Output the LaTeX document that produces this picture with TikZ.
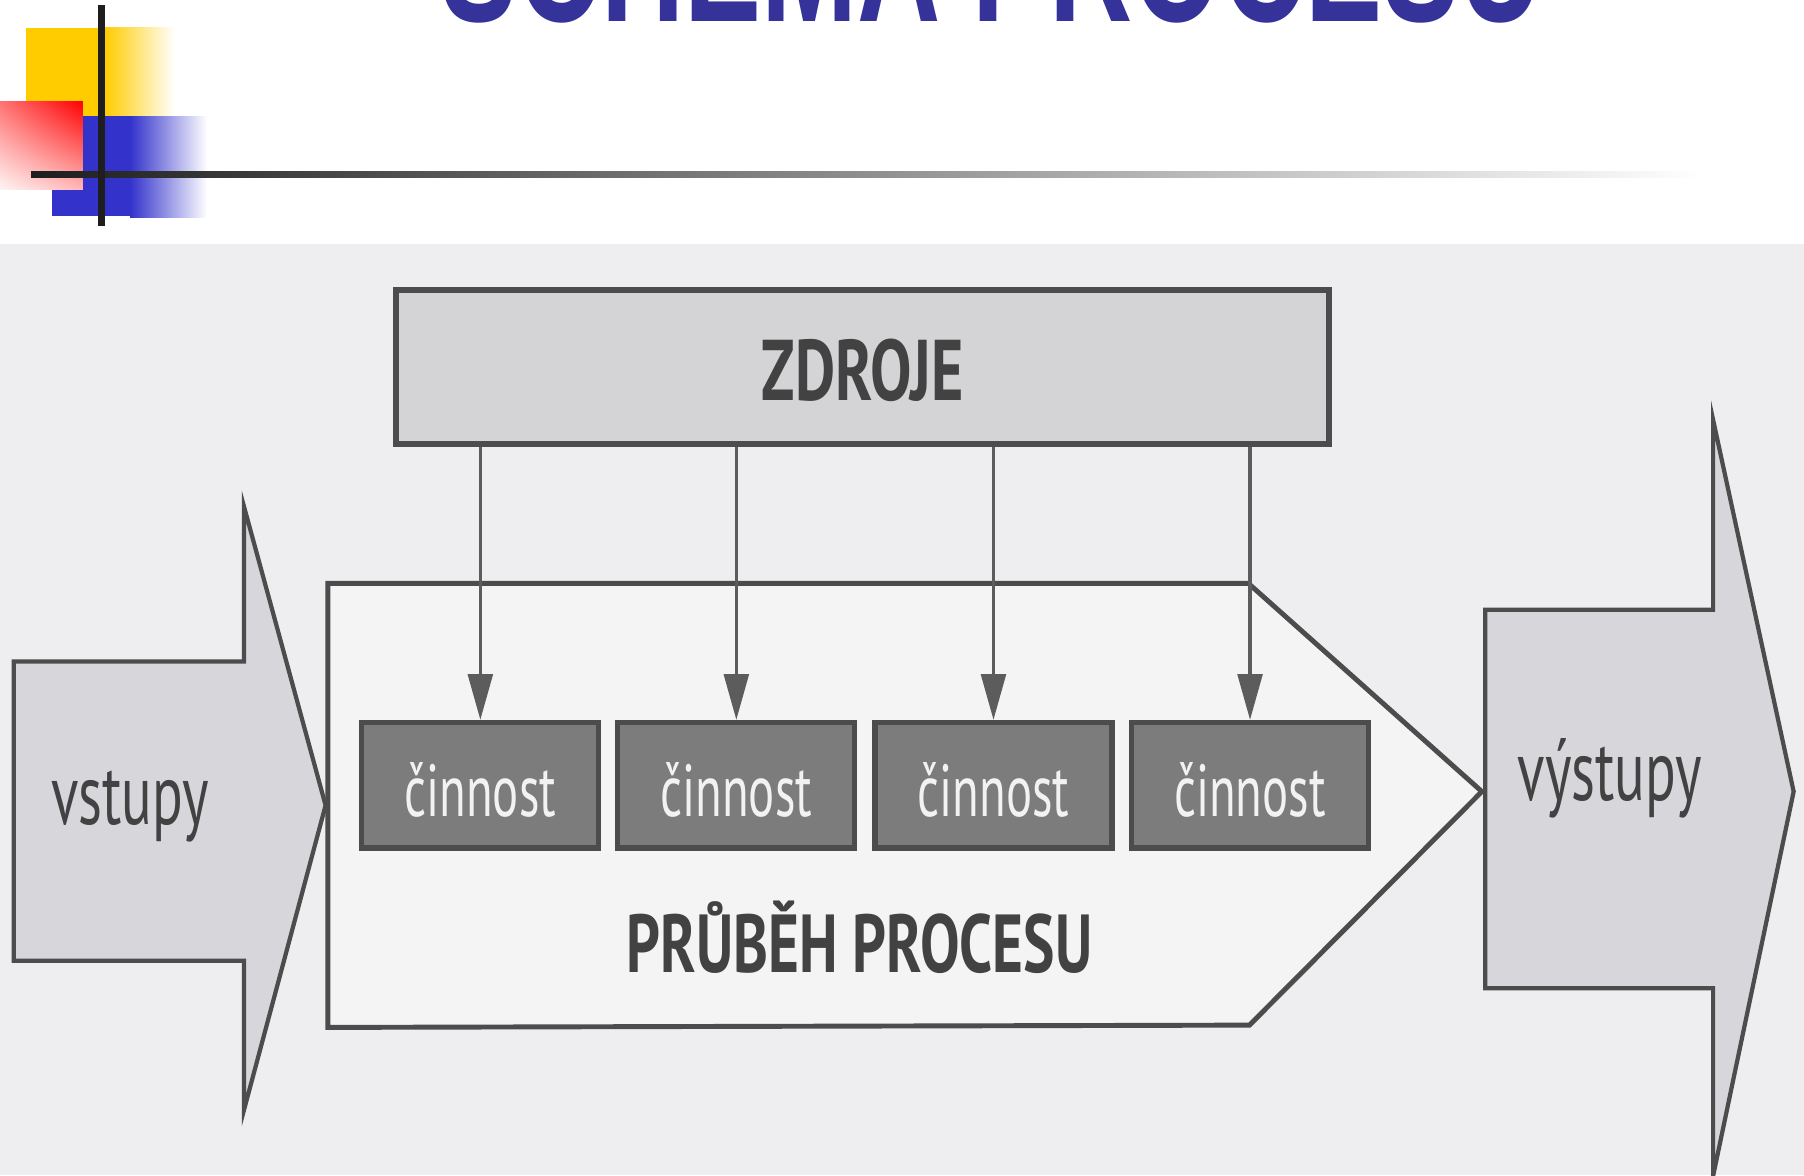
\documentclass[tikz,border=0pt]{standalone}
\usepackage{fontspec}
\usepackage{graphicx}
\usetikzlibrary{arrows.meta,shadings}
\newfontfamily\diafont[FakeStretch=0.66]{PT Sans}
\newfontfamily\diaboldfont[FakeStretch=0.72]{PT Sans}
\newfontfamily\titlefont{Liberation Sans}
\definecolor{slidebg}{RGB}{238,238,240}
\definecolor{zdrojefill}{RGB}{212,212,215}
\definecolor{arrowfill}{RGB}{214,214,219}
\definecolor{procfill}{RGB}{244,244,245}
\definecolor{actfill}{RGB}{124,124,124}
\definecolor{edgegray}{RGB}{76,76,76}
\definecolor{linegray}{RGB}{92,92,92}
\definecolor{textgray}{RGB}{66,66,66}
\definecolor{acttext}{RGB}{242,242,242}
\definecolor{titleblue}{RGB}{53,51,153}
\definecolor{decoyellow}{RGB}{255,204,0}
\definecolor{decoblue}{RGB}{51,51,204}
\definecolor{decored}{RGB}{255,0,0}
\definecolor{decoline}{RGB}{30,30,30}
\begin{document}
\begin{tikzpicture}[x=0.011505cm,y=-0.011505cm,
        res/.style={draw=edgegray,line width=1.7pt,fill=zdrojefill,inner sep=0pt,
            minimum width=811*0.011505cm,minimum height=134*0.011505cm,
            text height=19pt,text depth=0pt,text=textgray,
            font=\diaboldfont\bfseries\fontsize{24.5}{29}\selectfont},
        act/.style={draw=edgegray,line width=1.5pt,fill=actfill,inner sep=0pt,
            minimum width=206*0.011505cm,minimum height=109*0.011505cm,
            text height=18pt,text depth=0pt,text=acttext,
            font=\diafont\fontsize{21}{25}\selectfont},
        label/.style={anchor=base,inner sep=0pt,text=textgray},
        feed/.style={draw=linegray,line width=1pt,-{Triangle[length=13pt,width=7pt]}},
        bigarrow/.style={draw=edgegray,line width=1.2pt,fill=arrowfill,line join=miter}]
    \useasboundingbox (0,0) rectangle (1568,1021.3);

    % Slide decoration
    \fill [decoyellow] (22.6,24.3) rectangle (91,101);
    \shade [left color=decoyellow,right color=white] (91,23.5) rectangle (152,101);
    \fill [decoblue] (45,101) rectangle (113,188);
    \shade [left color=decoblue,right color=white] (113,101) rectangle (180,189);
    \shade [upper left=decored!55!white,upper right=decored,
        lower left=decored!4!white,lower right=decored!28!white] (0,88) rectangle (72,165);
    \shade [left color=decoline,right color=white] (27,148.7) rectangle (1480,154.7);
    \fill [decoline] (85.2,4.3) rectangle (91.2,196.5);
    \node [anchor=base,inner sep=0pt,text=titleblue] (title) at(862,19)
        {\scalebox{0.82}[1.25]{\titlefont\bfseries\fontsize{40}{48}\selectfont SCHÉMA PROCESU}};

    % Picture
    \fill [slidebg] (0,212) rectangle (1568,1021.3);

    % Inputs and outputs
    \draw [bigarrow] (12,575) -- (212,575) -- (212,440) -- (283,700) -- (212,965) -- (212,835) -- (12,835) -- cycle;
    \node [label,font=\diafont\fontsize{24.5}{29}\selectfont] (in) at(113,717) {vstupy};
    \draw [bigarrow] (1291,530) -- (1489,530) -- (1489,365) -- (1559,688) -- (1489,1022) -- (1489,859) -- (1291,859) -- cycle;
    \node [label,font=\diafont\fontsize{24.5}{29}\selectfont] (out) at(1399,696) {výstupy};

    % Process
    \draw [draw=edgegray,line width=1.4pt,fill=procfill,line join=miter]
        (285,507) -- (1085,507) -- (1288,688) -- (1086,891) -- (285,893) -- cycle;
    \node [label,font=\diaboldfont\bfseries\fontsize{23.4}{28}\selectfont] (proc) at(747,845) {PRŮBĚH PROCESU};

    % Resources and activities
    \node [res] (res) at(750,319) {ZDROJE};
    \foreach \i/\x in {1/417.5,2/640,3/863.5,4/1086.5} {
        \node [act] (act\i) at(\x,682.5) {činnost};
        \draw [feed] (res.south -| act\i.north) -- (act\i.north);
    }
\end{tikzpicture}
\end{document}
